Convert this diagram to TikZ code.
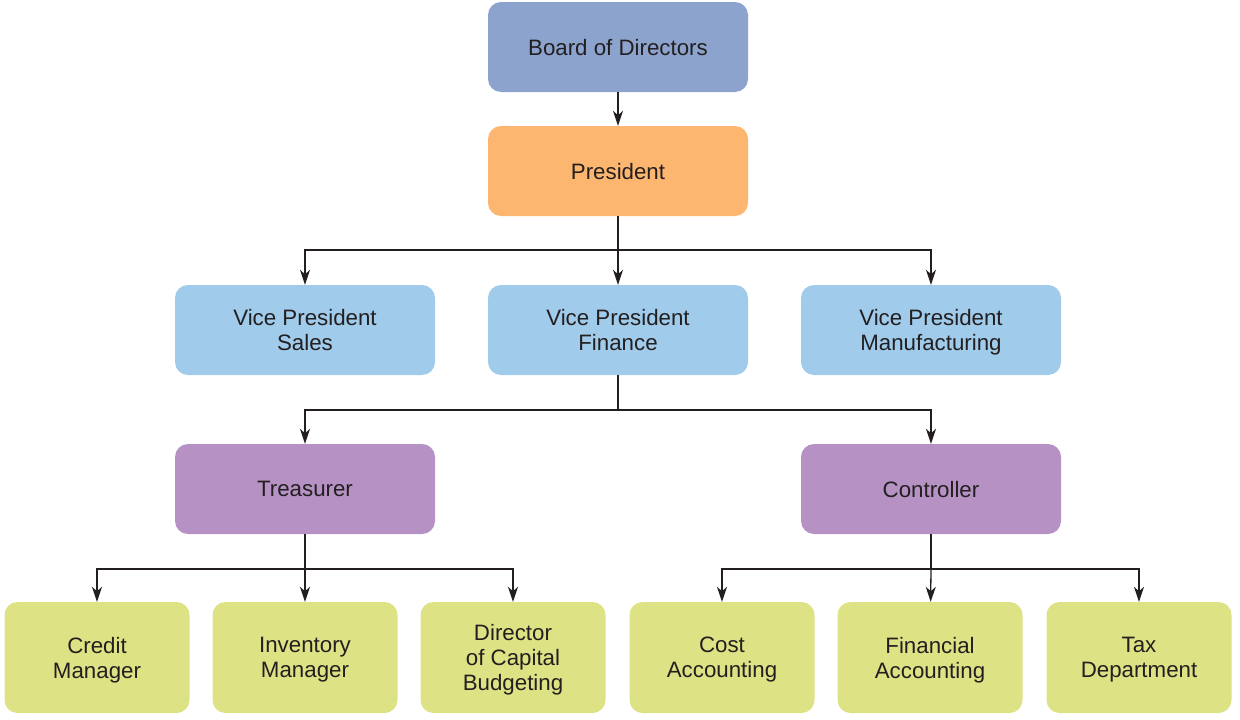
\documentclass[tikz,border=0pt]{standalone}
\usepackage{fontspec}
\setmainfont{Liberation Sans}
\usetikzlibrary{arrows.meta}
\definecolor{cboard}{HTML}{8CA3CE}
\definecolor{cpres}{HTML}{FDB66F}
\definecolor{cvp}{HTML}{A0CBEB}
\definecolor{cmid}{HTML}{B592C3}
\definecolor{clow}{HTML}{DDE384}
\definecolor{ctext}{HTML}{231F20}
\begin{document}
\begin{tikzpicture}[x=1pt,y=-1pt,
  box/.style={rounded corners=13pt, minimum width=260pt, minimum height=90pt, inner sep=0pt,
    align=center, text=ctext, text depth=0pt, font=\fontsize{22.3}{25}\selectfont},
  lowbox/.style={box, minimum width=185pt, minimum height=111pt},
  conn/.style={line width=1.3pt, draw=ctext, -{Stealth[length=15pt,width=10pt,inset=4.5pt]}},
  trunk/.style={line width=1.3pt, draw=ctext}]
\useasboundingbox (0,0) rectangle (1240,720);
\fill[white] (0,0) rectangle (1240,720);
\node[box, fill=cboard] (board) at (618,47) {Board of Directors};
\node[box, fill=cpres] (pres) at (618,171) {President};
\node[box, fill=cvp] (vps) at (305,330) {Vice President\\Sales};
\node[box, fill=cvp] (vpf) at (618,330) {Vice President\\Finance};
\node[box, fill=cvp] (vpm) at (931,330) {Vice President\\Manufacturing};
\node[box, fill=cmid] (tre) at (305,489) {Treasurer};
\node[box, fill=cmid] (con) at (931,489) {Controller};
\node[lowbox, fill=clow] (cm) at (97,657.5) {Credit\\Manager};
\node[lowbox, fill=clow] (im) at (305,657.5) {Inventory\\Manager};
\node[lowbox, fill=clow] (dc) at (513,657.5) {Director\\of Capital\\Budgeting};
\node[lowbox, fill=clow] (ca) at (722,657.5) {Cost\\Accounting};
\node[lowbox, fill=clow] (fa) at (930,657.5) {Financial\\Accounting};
\node[lowbox, fill=clow] (td) at (1139,657.5) {Tax\\Department};
\coordinate (j1) at (618,250);
\coordinate (j2) at (618,410);
\coordinate (j3) at (305,569);
\coordinate (j4) at (931,569);
\draw[conn] (board) -- (pres);
\draw[trunk] (pres) -- (j1);
\draw[conn] (j1) -| (vps);
\draw[conn] (j1) -- (vpf);
\draw[conn] (j1) -| (vpm);
\draw[trunk] (vpf) -- (j2);
\draw[conn] (j2) -| (tre);
\draw[conn] (j2) -| (con);
\draw[trunk] (tre) -- (j3);
\draw[conn] (j3) -| (cm);
\draw[conn] (j3) -- (im);
\draw[conn] (j3) -| (dc);
\draw[trunk] (con) -- (j4);
\draw[conn] (j4) -| (ca);
\draw[conn] (j4) -- (fa);
\draw[conn] (j4) -| (td);
\end{tikzpicture}
\end{document}
